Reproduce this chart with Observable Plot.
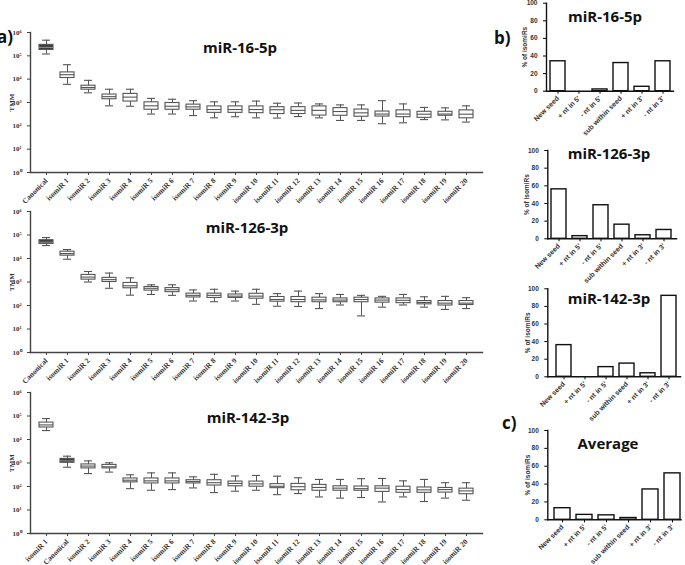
<!DOCTYPE html>
<html><head><meta charset="utf-8">
<script src="https://cdn.jsdelivr.net/npm/d3@7"></script>
<script src="https://cdn.jsdelivr.net/npm/@observablehq/plot@0.6"></script>
<style>
body{margin:0;background:#fff;}
#root{position:relative;width:685px;height:565px;overflow:hidden;background:#fff;}
#root svg{position:absolute;overflow:visible;background:transparent;}
.title{position:absolute;font-family:"Open Sans",sans-serif;font-weight:700;font-size:15px;white-space:nowrap;transform:translateX(-50%);line-height:1;color:#111;}
.tag{position:absolute;font-family:"Open Sans",sans-serif;font-weight:700;font-size:17px;line-height:1;color:#111;}
</style></head><body><div id="root"></div>
<script>
// ---------- data: panel a (box plots, TMM) ----------
const isoCats = ["isomiR 1","isomiR 2","isomiR 3","isomiR 4","isomiR 5","isomiR 6","isomiR 7","isomiR 8","isomiR 9","isomiR 10","isomiR 11","isomiR 12","isomiR 13","isomiR 14","isomiR 15","isomiR 16","isomiR 17","isomiR 18","isomiR 19","isomiR 20"];
const cats16 = ["Canonical", ...isoCats];
const cats126 = ["Canonical", ...isoCats];
const cats142 = ["isomiR 1","Canonical", ...isoCats.slice(1)];

const lo16  = [120000,6000,2600,720,690,320,320,275,220,245,220,215,250,220,170,170,123,135,185,180,145];
const q1_16 = [178000,11200,3550,1380,1100,490,490,490,360,360,350,320,320,275,270,245,250,235,220,270,210];
const md16  = [229000,15500,4400,1780,1700,720,690,650,500,500,500,490,460,460,410,360,320,320,315,320,315];
const q3_16 = [295000,19500,5250,2190,2340,1020,950,810,680,680,680,630,630,680,575,500,410,460,400,400,460];
const hi16  = [468000,41700,8900,3700,3700,1500,1380,1200,1070,1070,1150,930,950,870,790,790,1200,870,615,590,720];

const lo126  = [35500,9300,1000,540,275,295,270,155,145,155,112,93,91,74,105,36,85,105,85,68,74];
const q1_126 = [41700,13200,1260,1000,540,430,370,220,210,210,195,145,138,138,138,138,132,126,112,100,105];
const md126  = [49000,16200,1620,1260,690,540,470,270,270,250,250,180,180,174,170,180,170,166,135,126,126];
const q3_126 = [60000,19500,2000,1500,910,615,550,320,320,295,315,230,230,215,200,215,200,200,155,155,155];
const hi126  = [77600,24000,2800,2400,1500,760,760,460,490,410,490,320,410,320,295,270,245,295,235,245,215];

const lo142  = [24000,660,355,410,81,69,74,87,55,63,69,45,50,36,32,34,22,36,23,32,26];
const q1_142 = [32400,1020,590,590,150,135,135,135,110,102,98,85,69,66,66,66,59,54,54,55,47];
const md142  = [41700,1230,740,690,185,174,174,162,145,135,129,102,98,91,85,81,85,74,72,74,65];
const q3_142 = [52500,1500,870,830,220,220,220,185,185,162,162,126,129,117,102,100,102,98,91,87,81];
const hi142  = [77600,1950,1230,1020,315,380,380,257,330,280,295,275,235,200,200,215,220,174,200,145,145];

const yTicks = [1,10,100,1000,10000,100000,1000000];
const supers = ["⁰","¹","²","³","⁴","⁵","⁶"];

// ---------- data: panels b, c (bars, % of isomiRs) ----------
const barCats = ["New seed","+ nt in 5'","- nt in 5'","sub within seed","+ nt in 3'","- nt in 3'"];
const pct16  = [34,0,2,32,5,34];
const pct126 = [56,3,38,16,4,10];
const pct142 = [36,0,11,15,4,92];
const pctAvg = [13,5.5,5,2,34,52];
const pctTicks = [0,20,40,60,80,100];

const root = document.getElementById("root");
function place(el, left, top){ el.style.left = left+"px"; el.style.top = top+"px"; root.appendChild(el); }
function label(cls, text, left, top){ const d=document.createElement("div"); d.className=cls; d.textContent=text; place(d,left,top); }

function boxPanel(cats, lo, q1, md, q3, hi, top, y6, y0, height){
  const rows = cats.map((c,i)=>({c, lo:lo[i], q1:q1[i], md:md[i], q3:q3[i], hi:hi[i], dark:c==="Canonical"}));
  const step = 21.6, p = 0.35;
  const r0 = 40 - step*(1+p)/2, r1 = r0 + step*(cats.length + p);
  const svg = Plot.plot({
    width: 482, height, marginLeft: 30, marginRight: 0,
    marginTop: y6 - top, marginBottom: top + height - y0,
    style: {background:"transparent", overflow:"visible"},
    x: {type:"band", domain: cats, range:[r0, r1], padding: p},
    y: {type:"log", domain:[1, 1e6]},
    marks: [
      Plot.axisY({ticks: yTicks, tickFormat: d => "10" + supers[Math.round(Math.log10(d))], tickSize: 3, fontSize: 7,
        fontFamily: "Liberation Serif", fontWeight: "bold", stroke: "#444", fill:"#333",
        label: "TMM", labelAnchor: "center", labelArrow: "none", labelOffset: 21}),
      Plot.axisX({tickRotate: -45, tickSize: 3, tickPadding: 4, fontSize: 7.5, fontFamily: "Liberation Serif", fontWeight:"bold", fill:"#333", stroke:"#444", label: null}),
      Plot.frame({anchor:"left", stroke:"#444", strokeWidth:1.4}),
      Plot.frame({anchor:"bottom", stroke:"#444", strokeWidth:1.4}),
      Plot.ruleX(rows, {x:"c", y1:"lo", y2:"hi", stroke:"#555", strokeWidth:1}),
      Plot.tickY(rows, {x:"c", y:"lo", insetLeft:3, insetRight:3, stroke:"#555", strokeWidth:1.1}),
      Plot.tickY(rows, {x:"c", y:"hi", insetLeft:3, insetRight:3, stroke:"#555", strokeWidth:1.1}),
      Plot.barY(rows, {x:"c", y1:"q1", y2:"q3", fill: d => d.dark ? "#3d3d3d" : "#fff", stroke:"#555", strokeWidth:1.1}),
      Plot.tickY(rows, {x:"c", y:"md", stroke: d => d.dark ? "#888" : "#555", strokeWidth:1.1})
    ]
  });
  place(svg, 0, top);
}

const bLeft = 470;
function barPanel(vals, top, height, y100, y0, axisX, axisEnd, r0, r1, labelOffset){
  const rows = barCats.map((c,i)=>({c, v: vals[i]}));
  const svg = Plot.plot({
    width: 685 - bLeft, height, marginLeft: axisX - bLeft, marginRight: 685 - axisEnd,
    marginTop: y100 - top, marginBottom: top + height - y0,
    style: {background:"transparent", overflow:"visible"},
    x: {type:"band", domain: barCats, range:[r0 - bLeft, r1 - bLeft], paddingInner: 0.29, paddingOuter: 0},
    y: {domain:[0,100]},
    marks: [
      Plot.axisY({ticks: pctTicks, tickSize: 3, fontSize: 6.5, fontFamily:"Liberation Sans", fontWeight:"bold", fill:"#333",
        label: "% of isomiRs", labelAnchor:"center", labelArrow:"none", labelOffset}),
      Plot.axisX({tickRotate:-45, tickSize:3, tickPadding: 3, fontSize: 7, fontFamily:"Liberation Sans", fontWeight:"bold", fill:"#333", label:null}),
      Plot.barY(rows, {x:"c", y:"v", fill:"#fff", stroke:"#111", strokeWidth:1.4}),
      Plot.frame({anchor:"left", stroke:"#111", strokeWidth:1.4}),
      Plot.frame({anchor:"bottom", stroke:"#111", strokeWidth:1.4})
    ]
  });
  place(svg, bLeft, top);
}

boxPanel(cats16,  lo16,  q1_16, md16,  q3_16, hi16,  0,   32,  172, 210);
boxPanel(cats126, lo126, q1_126, md126, q3_126, hi126, 180, 211, 352, 210);
boxPanel(cats142, lo142, q1_142, md142, q3_142, hi142, 360, 392, 533, 205);

barPanel(pct16,  0,   135, 2.7,  90.7,  546,   673,   546.7, 672.3, 24);
barPanel(pct126, 135, 140, 150,  238.3, 547.3, 676,   548.3, 673.3, 23);
barPanel(pct142, 275, 145, 288.3,376.3, 547.3, 680,   553.3, 678.7, 22);
barPanel(pctAvg, 420, 145, 430,  519.3, 547.3, 680.5, 553.3, 680,   22);

label("title","miR-16-5p", 240, 40);
label("title","miR-126-3p", 247, 220);
label("title","miR-142-3p", 248, 410);
label("title","miR-16-5p", 605, 9);
label("title","miR-126-3p", 609, 146);
label("title","miR-142-3p", 609, 291);
label("title","Average", 608, 436);
label("tag","a)", -3, 28);
label("tag","b)", 494, 29);
label("tag","c)", 502, 414);
</script></body></html>
